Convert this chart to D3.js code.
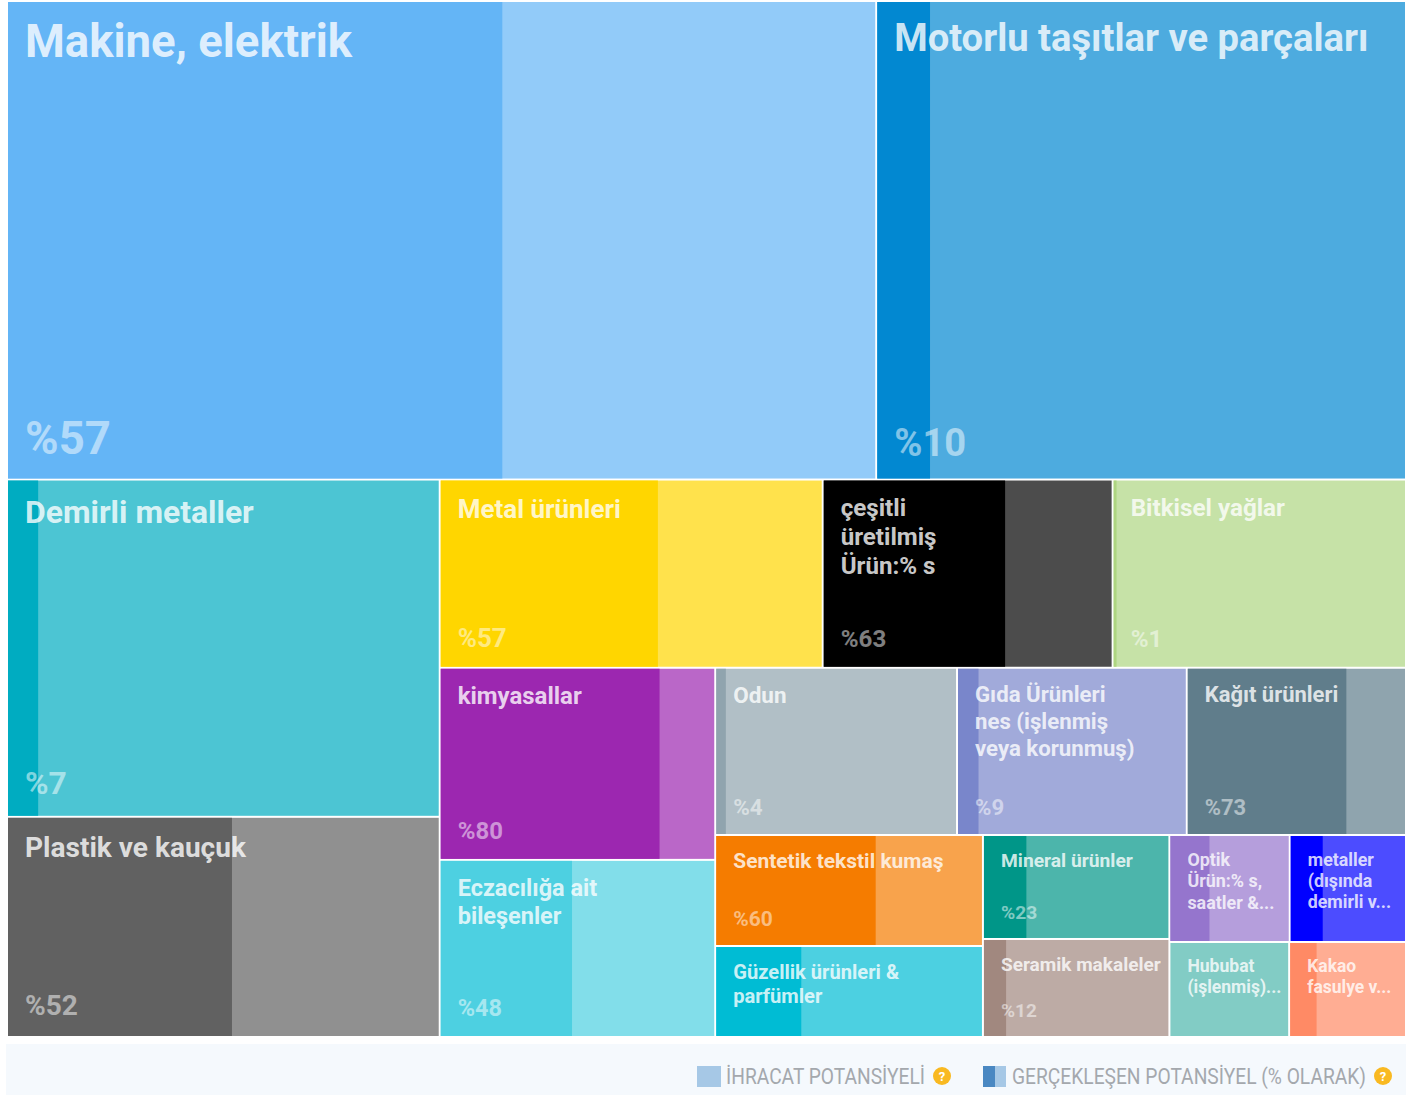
<!DOCTYPE html>
<html>
<head>
<meta charset="utf-8">
<script src="https://cdn.jsdelivr.net/npm/d3@7"></script>
<style>
  body { margin: 0; background: #ffffff; }
  svg { display: block; font-family: Roboto, "Noto Sans", "DejaVu Sans", sans-serif; }
</style>
</head>
<body>
<svg id="chart" width="1413" height="1095"></svg>
<script>
// ---- data (displayed labels, export potential, realized potential %) ----
const categories = [
  "Makine, elektrik",
  "Motorlu taşıtlar ve parçaları",
  "Demirli metaller",
  "Plastik ve kauçuk",
  "Metal ürünleri",
  "çeşitli\nüretilmiş\nÜrün:% s",
  "Bitkisel yağlar",
  "kimyasallar",
  "Eczacılığa ait\nbileşenler",
  "Odun",
  "Gıda Ürünleri\nnes (işlenmiş\nveya korunmuş)",
  "Kağıt ürünleri",
  "Sentetik tekstil kumaş",
  "Güzellik ürünleri &\nparfümler",
  "Mineral ürünler",
  "Seramik makaleler",
  "Optik\nÜrün:% s,\nsaatler &...",
  "metaller\n(dışında\ndemirli v...",
  "Hububat\n(işlenmiş)...",
  "Kakao\nfasulye v..."
];
const potential = [4149.0, 2528.6, 1455.8, 950.4, 719.1, 544.3, 550.8, 528.0, 486.8, 403.3,
                   383.3, 365.7, 296.4, 243.0, 193.4, 182.3, 128.4, 124.1, 113.5, 110.7];
const realizedPct = [57, 10, 7, 52, 57, 63, 1, 80, 48, 4, 9, 73, 60, 32, 23, 12, 33, 28, 0, 23];
const palette = ["#64B5F6", "#0288D1", "#00ACC1", "#616161", "#FFD600", "#000000", "#AED581",
                 "#9C27B0", "#4DD0E1", "#90A4AE", "#7986CB", "#607D8B", "#F57C00", "#00BCD4",
                 "#009688", "#A1887F", "#9575CD", "#0000FF", "#4DB6AC", "#FF8A65"];
const legendLabels = ["İHRACAT POTANSİYELİ", "GERÇEKLEŞEN POTANSİYEL (% OLARAK)"];

// ---- layout ----
const svg = d3.select("#chart");
const frame = { x0: 7, x1: 1406, y0: 1, y1: 1037 };
const VW = 1000, VH = 1440; // virtual frame used by the squarified layout

const root = d3.hierarchy({ children: categories.map((c, i) => ({ name: c, i })) })
  .sum(d => (d.children ? 0 : potential[d.i]));
d3.treemap().tile(d3.treemapSquarify.ratio(1)).size([VW, VH]).round(false)(root);

const x = d3.scaleLinear().domain([0, VW]).range([frame.x0, frame.x1]);
const y = d3.scaleLinear().domain([0, VH]).range([frame.y0, frame.y1]);

const cells = svg.append("g").selectAll("g").data(root.leaves()).join("g");

cells.each(function (d) {
  const g = d3.select(this);
  const i = d.data.i;
  const ox0 = x(d.x0), ox1 = x(d.x1), oy0 = y(d.y0), oy1 = y(d.y1);
  const cx0 = ox0 + 1, cx1 = ox1 - 1, cy0 = oy0 + 1, cy1 = oy1 - 1;
  const w = cx1 - cx0, h = cy1 - cy0;
  const col = palette[i];

  g.append("rect").attr("x", cx0).attr("y", cy0).attr("width", w).attr("height", h)
    .attr("fill", col).attr("fill-opacity", 0.7);
  g.append("rect").attr("x", cx0).attr("y", cy0)
    .attr("width", w * realizedPct[i] / 100).attr("height", h)
    .attr("fill", col);

  const fs = 12 + 0.052 * Math.sqrt((ox1 - ox0) * (oy1 - oy0));
  const lines = categories[i].split("\n");
  const tx = cx0 + 17;
  const firstBase = cy0 + 13 + 0.93 * fs;
  const lh = 1.2 * fs;

  const t = g.append("text").attr("font-size", fs).attr("font-weight", 700)
    .attr("fill", "#ffffff").attr("fill-opacity", 0.8);
  lines.forEach((ln, k) => {
    t.append("tspan").attr("x", tx).attr("y", firstBase + k * lh).text(ln);
  });

  const titleBottom = firstBase + (lines.length - 1) * lh + 0.25 * fs;
  const pctBase = cy1 - 15 - 0.2 * fs;
  const pctTop = pctBase - 0.75 * fs;
  if (pctTop - titleBottom > 10) {
    g.append("text").attr("x", tx).attr("y", pctBase)
      .attr("font-size", fs).attr("font-weight", 700)
      .attr("fill", "#ffffff").attr("fill-opacity", 0.5)
      .text("%" + realizedPct[i]);
  }
});

// ---- legend ----
const lg = svg.append("g");
lg.append("rect").attr("x", 6).attr("y", 1044).attr("width", 1400).attr("height", 51)
  .attr("fill", "#F5F9FD");

function help(cx) {
  lg.append("circle").attr("cx", cx).attr("cy", 1076).attr("r", 9).attr("fill", "#F9B921");
  lg.append("text").attr("x", cx).attr("y", 1081).attr("text-anchor", "middle")
    .attr("font-size", 13).attr("font-weight", 700).attr("fill", "#ffffff").text("?");
}
function legendText(x0, len, label) {
  lg.append("text").attr("transform", `translate(${x0},1084) scale(1,1.2)`)
    .attr("font-size", 18.5).attr("fill", "#A4A8AD")
    .attr("textLength", len).attr("lengthAdjust", "spacingAndGlyphs").text(label);
}

lg.append("rect").attr("x", 697).attr("y", 1066).attr("width", 24).attr("height", 21).attr("fill", "#A6C8E6");
legendText(726, 199, legendLabels[0]);
help(942);

lg.append("rect").attr("x", 983).attr("y", 1066).attr("width", 12).attr("height", 21).attr("fill", "#4A88C2");
lg.append("rect").attr("x", 995).attr("y", 1066).attr("width", 11).attr("height", 21).attr("fill", "#A6C8E6");
legendText(1012, 354, legendLabels[1]);
help(1383);
</script>
</body>
</html>
